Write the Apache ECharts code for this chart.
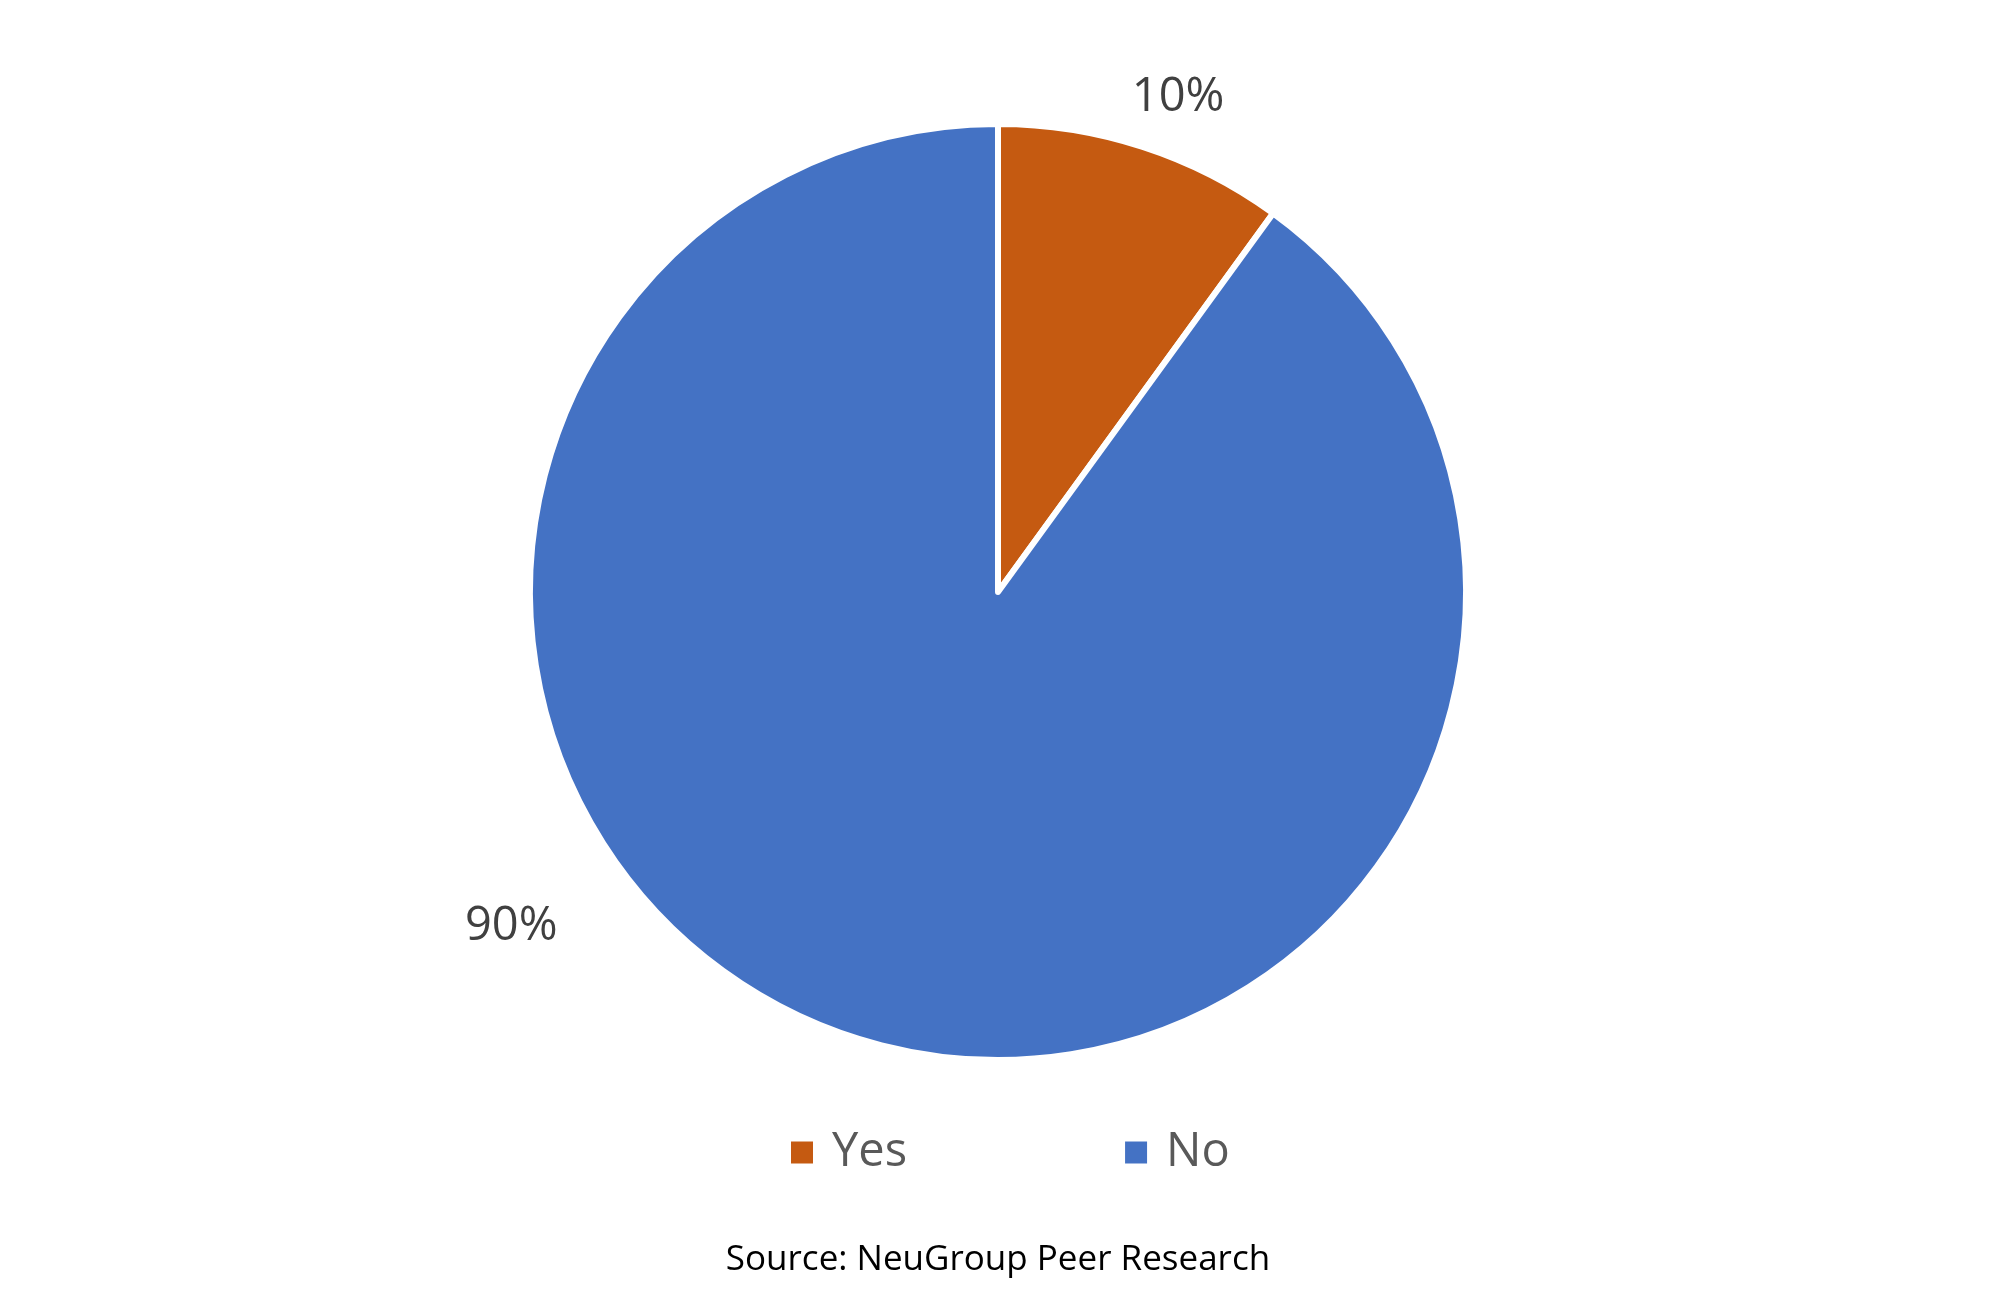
<!DOCTYPE html>
<html><head><meta charset="utf-8">
<script src="https://cdn.jsdelivr.net/npm/echarts@6/dist/echarts.min.js"></script>
<style>html,body{margin:0;padding:0;background:#fff}#c{width:1996px;height:1307px}</style>
</head><body><div id="c"></div>
<script>
const categories = ['Yes', 'No'];
const values = [10, 90];
const colors = ['#C55A11', '#4472C4'];
const sourceText = 'Source: NeuGroup Peer Research';

// label placement: angle clockwise from top (deg) and distance factor relative to radius
const labelAngles = [20.0, 235.5];
const labelDist = [1.125, 1.262];

const chart = echarts.init(document.getElementById('c'));
const R = 468;
const CX = 998, CY = 592;
chart.setOption({
  backgroundColor: '#ffffff',
  animation: false,
  title: {
    text: sourceText,
    left: 'center',
    top: 1238,
    textStyle: { fontFamily: 'Open Sans', fontSize: 35, fontWeight: 'normal', color: '#000000' }
  },
  legend: {
    data: categories,
    left: 789,
    top: 1129,
    padding: 0,
    icon: 'rect',
    itemWidth: 24,
    itemHeight: 24,
    itemGap: 216,
    textStyle: { fontFamily: 'Open Sans', fontSize: 47, color: '#595959', padding: [0, 0, 0, 13] }
  },
  series: [{
    type: 'pie',
    center: [CX, CY],
    radius: R,
    startAngle: 90,
    clockwise: true,
    data: categories.map((c, i) => ({ name: c, value: values[i], itemStyle: { color: colors[i] } })),
    itemStyle: { borderColor: '#ffffff', borderWidth: 6 },
    label: {
      show: true,
      position: 'outside',
      formatter: p => Math.round(p.percent) + '%',
      fontFamily: 'Open Sans',
      fontSize: 47,
      color: '#404040'
    },
    labelLine: { show: false },
    labelLayout: function (params) {
      const i = params.dataIndex;
      const a = labelAngles[i] * Math.PI / 180;
      const d = R * labelDist[i];
      return { x: CX + Math.sin(a) * d, y: CY - Math.cos(a) * d, align: 'center', verticalAlign: 'middle' };
    },
    emphasis: { disabled: true }
  }]
});
</script>
</body></html>
